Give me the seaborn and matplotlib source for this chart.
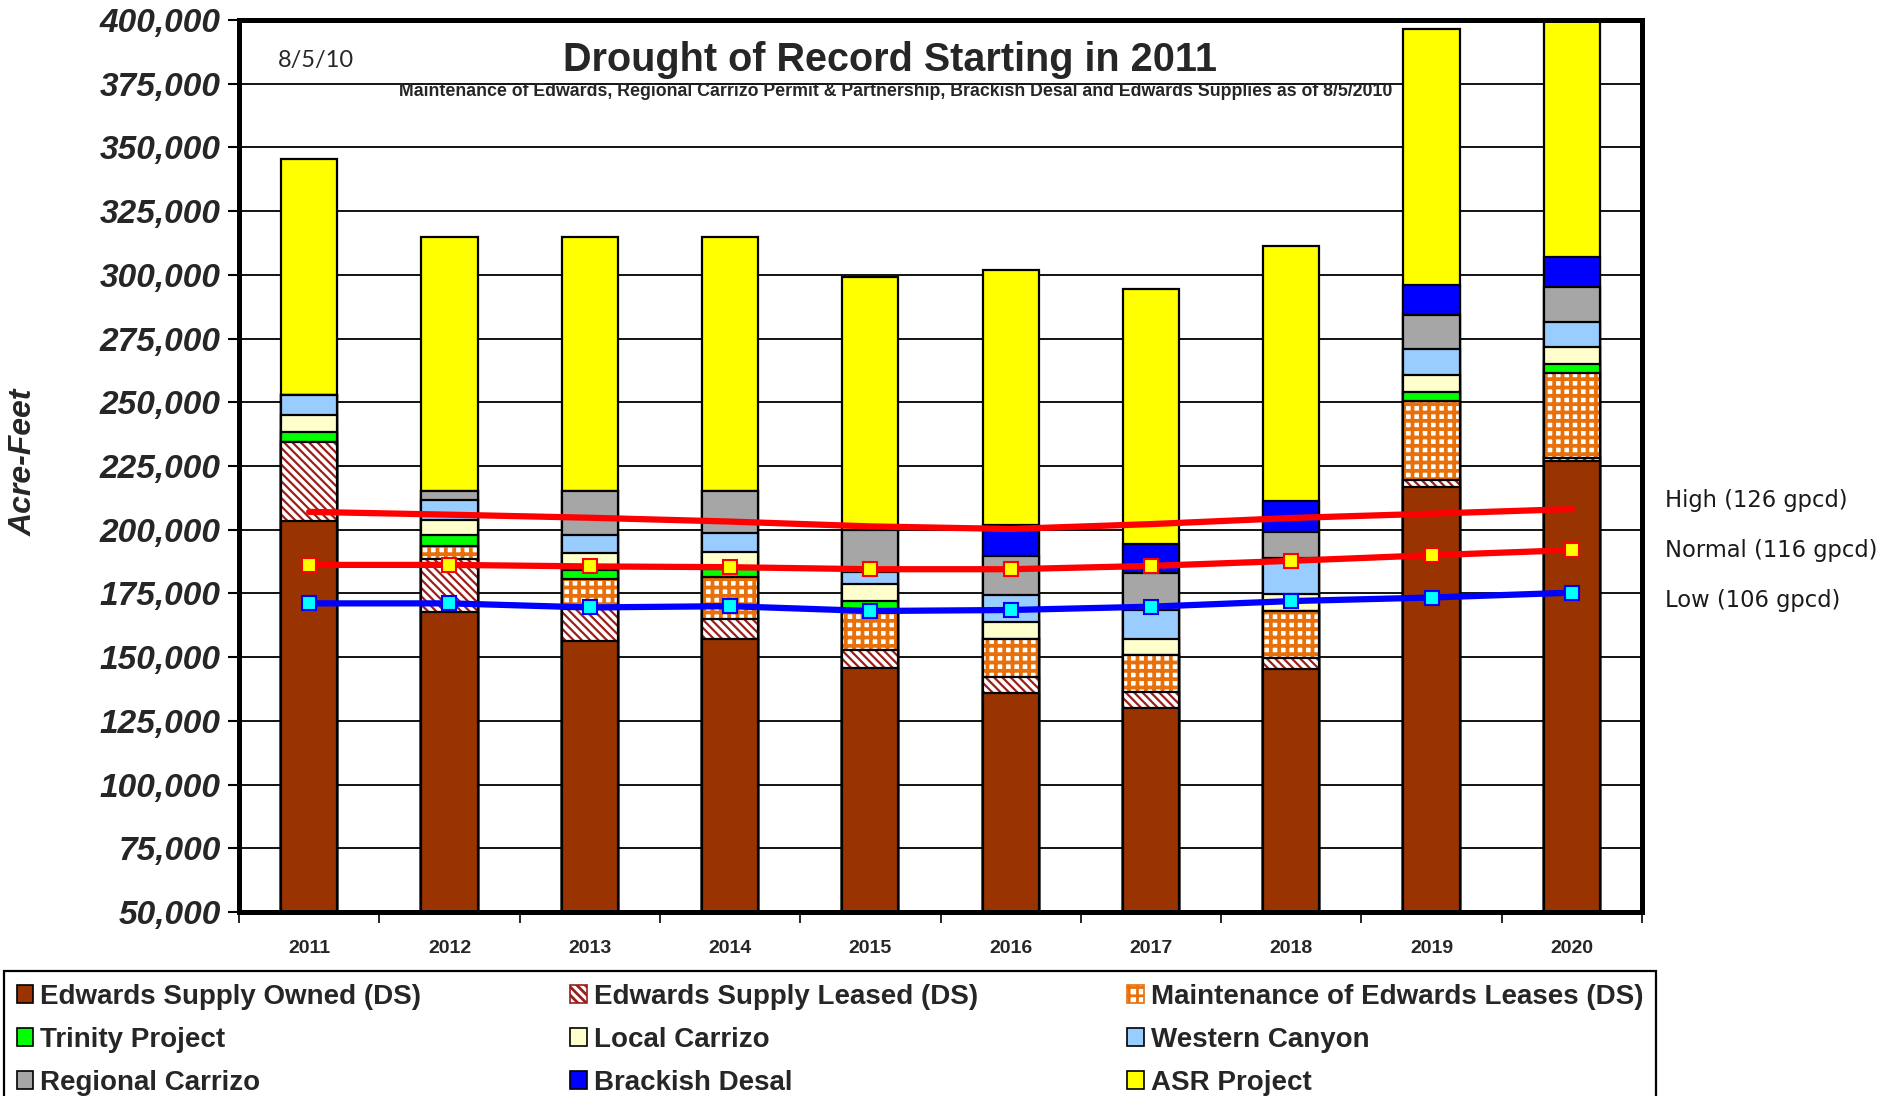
import numpy as np
import pandas as pd
import matplotlib
matplotlib.use("Agg")
import matplotlib.pyplot as plt
from matplotlib.patches import Patch
import seaborn as sns

# ---------------- data ----------------
years = ['2011', '2012', '2013', '2014', '2015', '2016', '2017', '2018', '2019', '2020']

edwards_owned = [203300, 167900, 156500, 157200, 145900, 136100, 130000, 145500, 216900, 227000]
edwards_leased = [31100, 20700, 12400, 7800, 6800, 6100, 6300, 4200, 2800, 1200]
maint_leases = [0, 5200, 11800, 16400, 15500, 15100, 14500, 18400, 31000, 33400]
trinity = [4000, 4000, 3400, 3300, 3800, 0, 0, 0, 3200, 3300]
local_carrizo = [6600, 6200, 6700, 6600, 6800, 6600, 6500, 6600, 6700, 6700]
western_canyon = [8000, 7800, 7200, 7400, 4600, 10500, 11200, 14100, 10500, 9900]
regional_carrizo = [0, 3400, 17200, 16500, 16600, 15400, 14400, 10300, 13100, 13700]
brackish_desal = [0, 0, 0, 0, 0, 11900, 11600, 12100, 11900, 12000]
asr_project = [92400, 99800, 99800, 99800, 99300, 100200, 100100, 100000, 100300, 95000]

demand_high = [207000, 205900, 204700, 203200, 201300, 200300, 202200, 204600, 206300, 208100]
demand_normal = [186200, 186200, 185600, 185300, 184500, 184500, 185800, 187800, 190000, 192000]
demand_low = [171100, 171100, 169500, 170000, 168100, 168500, 169800, 172000, 173400, 175300]

series_names = ['Edwards Supply Owned (DS)', 'Edwards Supply Leased (DS)',
                'Maintenance of Edwards Leases (DS)', 'Trinity Project', 'Local Carrizo',
                'Western Canyon', 'Regional Carrizo', 'Brackish Desal', 'ASR Project']
series_values = [edwards_owned, edwards_leased, maint_leases, trinity, local_carrizo,
                 western_canyon, regional_carrizo, brackish_desal, asr_project]
# (facecolor, hatch, hatch colour, hatch linewidth)
series_styles = [('#993300', None, None, None),
                 ('white', '\\\\\\\\', '#9A1F1A', 1.6),
                 ('white', '++', '#E8700A', 2.7),
                 ('#00FF00', None, None, None),
                 ('#FFFFCC', None, None, None),
                 ('#99CCFF', None, None, None),
                 ('#A6A6A6', None, None, None),
                 ('#0000FF', None, None, None),
                 ('#FFFF00', None, None, None)]

y_ticks = np.arange(50000, 400001, 25000)

# ---------------- style ----------------
sns.set_theme(style='white')
plt.rcParams['font.family'] = ['Liberation Sans', 'DejaVu Sans']
plt.rcParams['hatch.linewidth'] = 2.0

W, H = 1902, 1096
fig = plt.figure(figsize=(W / 100, H / 100), dpi=100)
ax = fig.add_axes([239 / W, 1 - 912 / H, (1642 - 239) / W, (912 - 20) / H])

cum = np.cumsum(np.array(series_values, dtype=float), axis=0)


def new_patches(before):
    return ax.patches[before:]


for i in reversed(range(len(series_values))):
    fc, hatch, hc, hlw = series_styles[i]
    df = pd.DataFrame({'year': years, 'value': cum[i]})
    n0 = len(ax.patches)
    sns.barplot(data=df, x='year', y='value', color='white', saturation=1,
                width=0.4, errorbar=None, ax=ax)
    for p in new_patches(n0):
        if hatch is None:
            p.set_facecolor(fc)
            p.set_edgecolor('black')
            p.set_linewidth(1.6)
        else:
            p.set_facecolor('white')
            p.set_edgecolor(hc)
            p.set_hatch(hatch)
            p.set_linewidth(0)
            if hasattr(p, 'set_hatch_linewidth'):
                p.set_hatch_linewidth(hlw)
    if hatch is not None:
        n1 = len(ax.patches)
        sns.barplot(data=df, x='year', y='value', color='white', saturation=1,
                    width=0.4, errorbar=None, ax=ax)
        for p in new_patches(n1):
            p.set_facecolor('none')
            p.set_edgecolor('black')
            p.set_linewidth(1.6)

xpos = np.arange(len(years))
sns.lineplot(x=xpos, y=demand_high, color='#FF0000', linewidth=4.5, ax=ax,
             solid_capstyle='round', legend=False)
sns.lineplot(x=xpos, y=demand_normal, color='#FF0000', linewidth=4.5, ax=ax,
             marker='s', markersize=10, markerfacecolor='#FFFF00',
             markeredgecolor='#FF0000', markeredgewidth=1.5, legend=False)
sns.lineplot(x=xpos, y=demand_low, color='#0000FF', linewidth=4.5, ax=ax,
             marker='s', markersize=10, markerfacecolor='#00FFFF',
             markeredgecolor='#0000FF', markeredgewidth=1.5, legend=False)

# ---------------- axes ----------------
ax.set_xlim(-0.5, len(years) - 0.5)
ax.set_ylim(50000, 400000)
ax.set_xlabel('')
ax.set_ylabel('')
ax.set_axisbelow(True)
ax.yaxis.grid(True, color='black', linewidth=1.3)
ax.xaxis.grid(False)
for s in ax.spines.values():
    s.set_visible(True)
    s.set_color('black')
    s.set_linewidth(3.6)

ax.set_yticks(y_ticks)
ax.set_yticklabels([f'{v:,.0f}' for v in y_ticks], fontsize=24,
                   fontweight='bold', fontstyle='italic')
ax.tick_params(axis='y', which='major', left=True, direction='out', length=8,
               width=1.5, color='black', pad=5)

ax.set_xticks(xpos)
ax.set_xticklabels(years, fontsize=14, fontweight='bold')
ax.set_xticks(np.arange(-0.5, len(years), 1.0), minor=True)
ax.tick_params(axis='x', which='major', bottom=True, length=0, pad=20)
ax.tick_params(axis='x', which='minor', bottom=True, direction='out', length=8,
               width=1.2, color='black')

# ---------------- texts ----------------
fig.text(890 / W, 1 - 60 / H, 'Drought of Record Starting in 2011', ha='center', va='center',
         fontsize=28.5, fontweight='bold')
fig.text(896 / W, 1 - 91 / H,
         'Maintenance of Edwards, Regional Carrizo Permit & Partnership, Brackish Desal '
         'and Edwards Supplies as of 8/5/2010',
         ha='center', va='center', fontsize=12.8, fontweight='bold')
fig.text(278 / W, 1 - 61 / H, '8/5/10', ha='left', va='center', fontsize=17,
         family=['Lato', 'DejaVu Sans'])
fig.text(24 / W, 1 - 462 / H, 'Acre-Feet', rotation=90, ha='center', va='center',
         fontsize=23, fontweight='bold', fontstyle='italic')

for label, ypix in [('High (126 gpcd)', 500), ('Normal (116 gpcd)', 551), ('Low (106 gpcd)', 600)]:
    fig.text(1665 / W, 1 - ypix / H, label, ha='left', va='center', fontsize=16.3,
             color='#1a1a1a', family=['DejaVu Sans'])

# ---------------- legend ----------------
handles = []
for (fc, hatch, hc, hlw) in series_styles:
    if hatch is None:
        handles.append(Patch(facecolor=fc, edgecolor='black', linewidth=1.2))
    else:
        handles.append(Patch(facecolor='white', edgecolor=hc, hatch=hatch, linewidth=1.2))

order = [0, 3, 6, 1, 4, 7, 2, 5, 8]
leg = fig.legend([handles[k] for k in order], [series_names[k] for k in order],
                 loc='upper left', bbox_to_anchor=(4 / W, 1 - 971 / H, 1652 / W, 0.0),
                 mode='expand', ncol=3, frameon=True, fancybox=False, shadow=False,
                 edgecolor='black', framealpha=1,
                 prop={'size': 20, 'weight': 'bold'},
                 handlelength=0.6, handleheight=0.6, handletextpad=0.25,
                 borderaxespad=0, borderpad=0.45, labelspacing=0.62)
leg.get_frame().set_linewidth(1.6)

fig.savefig('out.png', dpi=100)
